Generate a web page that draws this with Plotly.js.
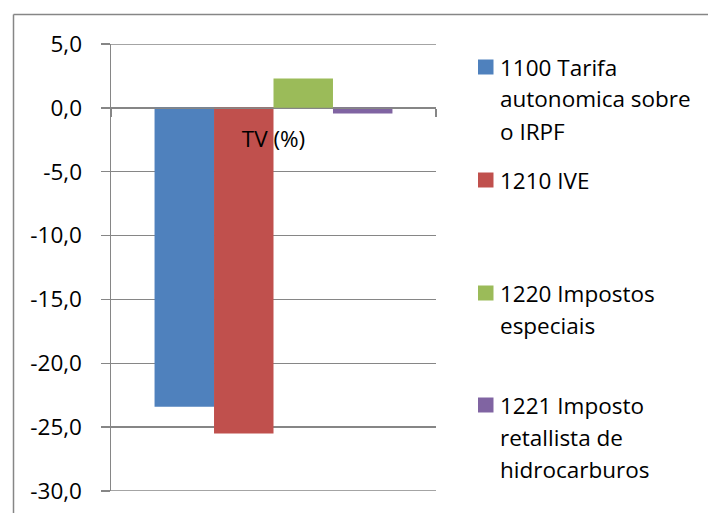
<!DOCTYPE html>
<html>
<head>
<meta charset="utf-8">
<script src="https://cdn.plot.ly/plotly-3.0.1.min.js"></script>
<style>
  html, body { margin: 0; padding: 0; background: #fff; }
  #chart { width: 708px; height: 513px; }
</style>
</head>
<body>
<div id="chart"></div>
<script>
// ---- data ----
const categories = ["TV (%)"];
const legendLines = [
  ["1100 Tarifa", "autonomica sobre", "o IRPF"],
  ["1210 IVE"],
  ["1220 Impostos", "especiais"],
  ["1221 Imposto", "retallista de", "hidrocarburos"]
];
const seriesNames = legendLines.map(l => l.join(" "));
const seriesValues = [-23.4, -25.5, 2.3, -0.45];
const seriesColors = ["#4F81BD", "#C0504D", "#9BBB59", "#8064A2"];
const yTickVals = [5, 0, -5, -10, -15, -20, -25, -30];
const yTickText = yTickVals.map(v => v.toFixed(1).replace(".", ","));
const yRange = [-30, 5];

// ---- layout constants (pixels) ----
const W = 708, H = 513;
const M = { l: 111, r: 272, t: 44, b: 22 };
const PW = W - M.l - M.r, PH = H - M.t - M.b;
const px2x = px => (px - M.l) / PW;
const py2y = py => (H - M.b - py) / PH;

const FONT = "Open Sans, Lato, sans-serif";
const FS = 22.5;
const GRAY = "#868686";

const traces = seriesNames.map((name, i) => ({
  type: "bar",
  x: categories,
  y: [seriesValues[i]],
  name: name,
  marker: { color: seriesColors[i], line: { width: 0 } },
  showlegend: false,
  hoverinfo: "skip"
}));

// manual legend (Excel style, wrapped labels)
const legendFirstY = [67, 180, 293, 405];
const lineStep = 32;
const shapes = [];
const annotations = [];

// horizontal gridlines at the range edges (plotly hides those)
yRange.forEach(v => {
  shapes.push({ type: "line", xref: "paper", yref: "y", layer: "below",
    x0: 0, x1: 1, y0: v, y1: v, line: { color: GRAY, width: 1.5 } });
});

legendLines.forEach((lines, i) => {
  const cy = legendFirstY[i];
  shapes.push({
    type: "rect", xref: "paper", yref: "paper",
    x0: px2x(478), x1: px2x(493.5),
    y0: py2y(cy + 7.5), y1: py2y(cy - 7.5),
    fillcolor: seriesColors[i], line: { width: 0 }
  });
  lines.forEach((txt, j) => {
    annotations.push({
      xref: "paper", yref: "paper",
      x: px2x(498), y: py2y(cy + j * lineStep),
      xanchor: "left", yanchor: "middle",
      text: txt, showarrow: false,
      font: { family: FONT, size: FS, color: "#000" }
    });
  });
});

// chart-area border (partially cropped in reference)
shapes.push({ type: "line", xref: "paper", yref: "paper",
  x0: px2x(13.5), x1: px2x(720), y0: py2y(14.5), y1: py2y(14.5),
  line: { color: GRAY, width: 1.5 } });
shapes.push({ type: "line", xref: "paper", yref: "paper",
  x0: px2x(13.5), x1: px2x(13.5), y0: py2y(14.5), y1: py2y(530),
  line: { color: GRAY, width: 1.5 } });

const layout = {
  width: W, height: H,
  margin: M,
  paper_bgcolor: "#fff", plot_bgcolor: "#fff",
  showlegend: false,
  barmode: "group",
  bargap: 0.268,
  bargroupgap: 0,
  font: { family: FONT, size: FS, color: "#000" },
  xaxis: {
    type: "category",
    anchor: "free",
    position: (0 - yRange[0]) / (yRange[1] - yRange[0]),
    showline: true, linecolor: GRAY, linewidth: 1.5,
    ticks: "outside", ticklen: 8, tickcolor: GRAY, tickwidth: 1.5,
    tickson: "boundaries",
    showgrid: false, zeroline: false,
    ticklabelstandoff: 11,
    tickfont: { family: FONT, size: FS, color: "#000" },
    layer: "above traces"
  },
  yaxis: {
    range: yRange,
    tickmode: "array", tickvals: yTickVals, ticktext: yTickText,
    showline: true, linecolor: GRAY, linewidth: 1.5,
    ticks: "outside", ticklen: 9, tickcolor: GRAY, tickwidth: 1.5,
    showgrid: true, gridcolor: GRAY, gridwidth: 1.5,
    zeroline: false,
    ticklabelstandoff: 14,
    tickfont: { family: FONT, size: FS, color: "#000" }
  },
  shapes: shapes,
  annotations: annotations
};

Plotly.newPlot("chart", traces, layout, { staticPlot: true, displayModeBar: false });
</script>
</body>
</html>
